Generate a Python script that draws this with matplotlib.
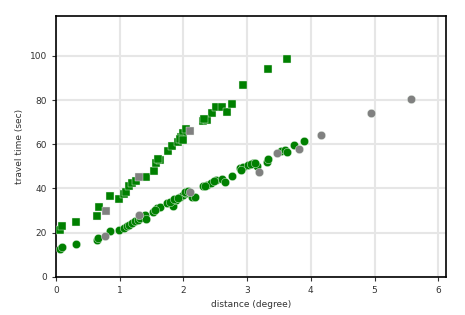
import matplotlib
matplotlib.use("Agg")
import matplotlib.pyplot as plt

# lower branch (circles)
circ_x = [0.07, 0.09, 0.31, 0.64, 0.66, 0.85, 0.99, 1.07, 1.11, 1.15, 1.19, 1.24,
          1.29, 1.32, 1.40, 1.42, 1.53, 1.58, 1.63, 1.74, 1.82, 1.84, 1.89, 1.95,
          2.00, 2.05, 2.13, 2.18, 2.31, 2.37, 2.44, 2.52, 2.60, 2.65, 2.76, 2.89,
          2.94, 3.02, 3.10, 3.15, 3.31, 3.33, 3.54, 3.59, 3.63, 3.73, 3.89,
          1.56, 1.79, 1.86, 1.92, 2.03, 2.08, 2.34, 2.48, 2.91, 3.06, 3.12]
circ_y = [12.5, 13.4, 14.8, 16.7, 17.8, 20.8, 21.3, 22.2, 22.8, 23.5, 24.3, 25.5,
          25.8, 26.6, 28.1, 26.1, 29.5, 31.1, 31.8, 33.3, 34.1, 32.1, 34.8, 36.3,
          37.1, 37.9, 36.3, 36.1, 40.9, 41.6, 42.7, 43.9, 44.2, 43.1, 45.7, 49.2,
          49.6, 50.7, 51.4, 50.2, 52.2, 53.3, 57.1, 57.5, 56.4, 59.7, 61.7,
          30.3, 33.8, 35.2, 35.6, 38.6, 39.0, 41.2, 43.3, 48.4, 50.9, 51.7]
circ_gray_x = [0.77, 1.30, 2.10, 3.19, 3.47, 3.82, 4.16, 4.95, 5.57]
circ_gray_y = [18.6, 28.1, 38.3, 47.4, 56.0, 57.8, 64.1, 74.1, 80.4]

# upper branch (squares)
sq_x = [0.06, 0.10, 0.31, 0.65, 0.68, 0.85, 0.99, 1.07, 1.10, 1.15, 1.19, 1.41,
        1.54, 1.57, 1.64, 1.76, 1.83, 1.92, 1.97, 2.00, 2.05, 2.31, 2.37, 2.45,
        2.52, 2.60, 2.68, 2.77, 2.94, 3.33, 3.63,
        1.26, 1.60, 1.95, 1.99, 2.33]
sq_y = [21.3, 23.1, 24.8, 27.6, 31.5, 36.7, 35.2, 37.4, 38.6, 41.2, 42.4, 45.4,
        48.1, 51.4, 52.9, 57.1, 59.3, 61.2, 63.5, 65.0, 66.8, 70.7, 71.0, 74.1,
        76.8, 76.8, 74.5, 78.1, 86.9, 94.0, 98.5,
        43.3, 53.5, 62.3, 61.8, 71.5]
sq_gray_x = [0.78, 1.30, 2.11]
sq_gray_y = [30.0, 45.4, 65.8]

fig = plt.figure(figsize=(4.65, 3.15), dpi=100)
ax = fig.add_axes([0.120, 0.121, 0.839, 0.828])

kw = dict(edgecolors="#e8f2e8", linewidths=0.3, zorder=3)
ax.scatter(sq_x, sq_y, marker="s", s=36, c="green", **kw)
ax.scatter(circ_x, circ_y, marker="o", s=36, c="green", **kw)
ax.scatter(sq_gray_x, sq_gray_y, marker="s", s=36, c="gray", **kw)
ax.scatter(circ_gray_x, circ_gray_y, marker="o", s=36, c="gray", **kw)

ax.set_xlim(0, 6.12)
ax.set_ylim(0, 118)
ax.set_xticks([0, 1, 2, 3, 4, 5, 6])
ax.set_yticks([0, 20, 40, 60, 80, 100])
ax.grid(True, color="#e6e6e6", linewidth=1.5)
ax.set_axisbelow(True)
ax.tick_params(labelsize=6.5, length=3, width=0.8, colors="#333333")
for sp in ax.spines.values():
    sp.set_linewidth(1.2)
ax.set_xlabel("distance (degree)", fontsize=6.5, color="#333333")
ax.set_ylabel("travel time (sec)", fontsize=6.5, color="#333333")

fig.savefig("out.png", dpi=100)
